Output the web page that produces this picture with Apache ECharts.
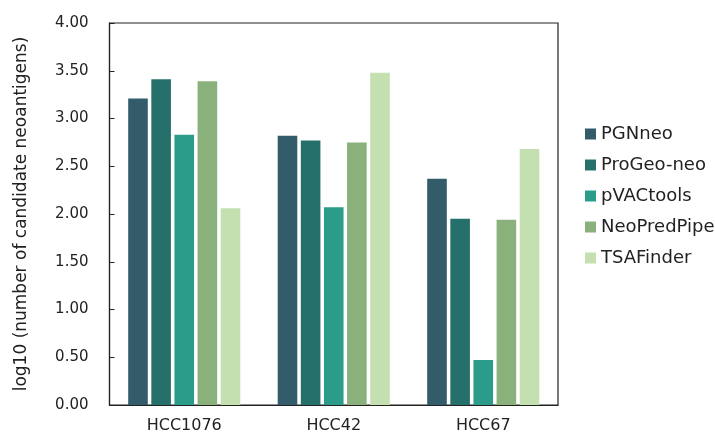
<!DOCTYPE html>
<html>
<head>
<meta charset="utf-8">
<script src="https://cdn.jsdelivr.net/npm/echarts@6/dist/echarts.min.js"></script>
<style>
html,body{margin:0;padding:0;background:#fff;}
#chart{width:715px;height:434px;}
</style>
</head>
<body>
<div id="chart"></div>
<script>
var categories = ['HCC1076', 'HCC42', 'HCC67'];
var seriesNames = ['PGNneo', 'ProGeo-neo', 'pVACtools', 'NeoPredPipe', 'TSAFinder'];
var PGNneo = [3.21, 2.82, 2.37];
var ProGeoNeo = [3.41, 2.77, 1.95];
var pVACtools = [2.83, 2.07, 0.47];
var NeoPredPipe = [3.39, 2.75, 1.94];
var TSAFinder = [2.06, 3.48, 2.68];
var seriesValues = [PGNneo, ProGeoNeo, pVACtools, NeoPredPipe, TSAFinder];
var colors = ['#335C6B', '#26706C', '#2A9C89', '#8AB07B', '#C5E0B0'];
var yTicks = ['0.00','0.50','1.00','1.50','2.00','2.50','3.00','3.50','4.00'];

var FONT = 'DejaVu Sans';
var chart = echarts.init(document.getElementById('chart'), null, {renderer: 'canvas'});
var series = seriesNames.map(function (n, i) {
  return {
    name: n,
    type: 'bar',
    data: seriesValues[i],
    barWidth: 19.6,
    barGap: '18%',
    itemStyle: {color: colors[i]}
  };
});
chart.setOption({
  animation: false,
  backgroundColor: '#fff',
  color: colors,
  textStyle: {fontFamily: FONT},
  grid: {
    left: 109.5, right: 157, top: 23, bottom: 27,
    show: true, borderColor: '#222', borderWidth: 1.2, backgroundColor: 'transparent'
  },
  legend: {
    orient: 'vertical',
    left: 580, top: 120,
    itemWidth: 11, itemHeight: 11, itemGap: 13,
    icon: 'rect',
    textStyle: {fontFamily: FONT, fontSize: 18, color: '#222'},
    data: seriesNames
  },
  xAxis: {
    type: 'category',
    data: categories,
    axisLine: {lineStyle: {color: '#222', width: 1.2}},
    axisTick: {show: false},
    axisLabel: {fontFamily: FONT, fontSize: 16, color: '#222', margin: 13}
  },
  yAxis: {
    type: 'value',
    min: 0, max: 4, interval: 0.5,
    name: 'log10 (number of candidate neoantigens)',
    nameLocation: 'middle',
    nameGap: 79,
    nameTextStyle: {fontFamily: FONT, fontSize: 17, color: '#222'},
    axisLine: {show: true, lineStyle: {color: '#222', width: 1.2}},
    axisTick: {show: true, inside: true, length: 5, lineStyle: {color: '#222'}},
    splitLine: {show: false},
    axisLabel: {
      fontFamily: FONT, fontSize: 15, color: '#222', margin: 21,
      formatter: function (v) { return yTicks[Math.round(v / 0.5)]; }
    }
  },
  series: series
});
</script>
</body>
</html>
